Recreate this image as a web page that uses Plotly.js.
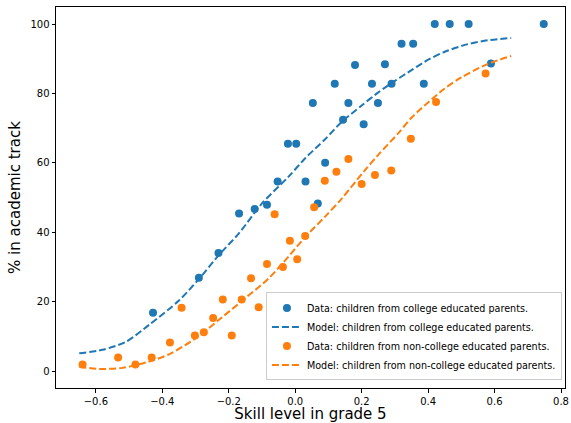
<!DOCTYPE html>
<html>
<head>
<meta charset="utf-8">
<script src="https://cdn.plot.ly/plotly-3.0.1.min.js"></script>
<style>html,body{margin:0;padding:0;background:#fff;}#chart{width:571px;height:423px;}</style>
</head>
<body>
<div id="chart"></div>
<script>
// Data: children from college educated parents
var collegeX = [-0.428,-0.290,-0.231,-0.169,-0.122,-0.085,-0.053,-0.022,0.003,0.031,0.053,0.068,0.090,0.119,0.144,0.160,0.180,0.206,0.231,0.249,0.270,0.290,0.320,0.355,0.387,0.420,0.465,0.522,0.589,0.748];
var collegeY = [16.8,26.9,34.0,45.4,46.7,47.9,54.6,65.5,65.5,54.6,77.2,48.3,60.0,82.8,72.4,77.2,88.2,71.1,82.8,77.2,88.4,82.8,94.3,94.3,82.8,100,100,100,88.6,100];
// Data: children from non-college educated parents
var nonCollegeX = [-0.640,-0.533,-0.481,-0.432,-0.377,-0.342,-0.302,-0.275,-0.247,-0.218,-0.191,-0.161,-0.133,-0.110,-0.085,-0.062,-0.037,-0.016,0.006,0.030,0.057,0.089,0.124,0.160,0.200,0.240,0.289,0.348,0.424,0.573];
var nonCollegeY = [1.9,3.9,1.9,3.9,8.2,18.2,10.2,11.2,15.3,20.6,10.2,20.6,26.7,18.4,30.8,45.2,30.0,37.5,32.2,38.9,47.2,54.8,57.4,61.1,53.9,56.5,57.8,66.9,77.5,85.7];
// Model curves
var modelCollegeX = [-0.65,-0.58,-0.51,-0.44,-0.35,-0.29,-0.23,-0.17,-0.10,-0.02,0.03,0.09,0.14,0.20,0.25,0.30,0.35,0.40,0.45,0.52,0.58,0.65];
var modelCollegeY = [5.1,6.1,8.4,13.3,20.3,26.5,33.4,39.6,48.3,56.0,61.3,66.8,71.8,76.5,80.3,83.6,86.7,89.7,92.0,94.2,95.3,96.0];
var modelNonCollegeX = [-0.65,-0.59,-0.52,-0.44,-0.38,-0.30,-0.22,-0.15,-0.08,-0.02,0.03,0.09,0.14,0.21,0.25,0.31,0.35,0.40,0.45,0.50,0.58,0.65];
var modelNonCollegeY = [1.2,0.6,0.9,2.7,4.8,9.4,15.5,21.0,26.7,33.0,38.6,44.5,49.7,57.9,62.3,68.5,73.0,77.4,81.4,84.6,88.5,90.8];
// Tick labels
var xTickVals = [-0.6,-0.4,-0.2,0.0,0.2,0.4,0.6,0.8];
var xTickText = ["\u22120.6","\u22120.4","\u22120.2","0.0","0.2","0.4","0.6","0.8"];
var yTickVals = [0,20,40,60,80,100];
var yTickText = ["0","20","40","60","80","100"];

var blue = '#1f77b4', orange = '#ff7f0e';
var traces = [
  {x: collegeX, y: collegeY, mode: 'markers', type: 'scatter',
   name: 'Data: children from college educated parents.',
   marker: {color: blue, size: 8}},
  {x: modelCollegeX, y: modelCollegeY, mode: 'lines', type: 'scatter',
   name: 'Model: children from college educated parents.',
   line: {color: blue, width: 2, dash: '7px,3px', shape: 'spline', smoothing: 0.8}},
  {x: nonCollegeX, y: nonCollegeY, mode: 'markers', type: 'scatter',
   name: 'Data: children from non-college educated parents.',
   marker: {color: orange, size: 8}},
  {x: modelNonCollegeX, y: modelNonCollegeY, mode: 'lines', type: 'scatter',
   name: 'Model: children from non-college educated parents.',
   line: {color: orange, width: 2, dash: '7px,3px', shape: 'spline', smoothing: 0.8}}
];
var font = 'DejaVu Sans, sans-serif';
var layout = {
  width: 571, height: 423,
  margin: {l: 56, r: 6, t: 7, b: 35, pad: 0},
  paper_bgcolor: '#fff', plot_bgcolor: '#fff',
  font: {family: font, size: 10, color: '#000'},
  showlegend: true,
  legend: {x: 0.994, y: 0.02, xanchor: 'right', yanchor: 'bottom',
           bgcolor: 'rgba(255,255,255,0.8)', bordercolor: '#cccccc', borderwidth: 1,
           font: {family: font, size: 9.6, color: '#000'}, tracegroupgap: 0, itemwidth: 30},
  xaxis: {range: [-0.72, 0.812], showgrid: false, zeroline: false,
          showline: true, mirror: true, linecolor: '#000', linewidth: 1,
          ticks: 'outside', ticklen: 3.5, tickwidth: 1, tickcolor: '#000',
          tickvals: xTickVals, ticktext: xTickText, ticklabeloverflow: 'allow',
          tickfont: {family: font, size: 10, color: '#000'},
          title: {text: 'Skill level in grade 5', font: {family: font, size: 15, color: '#000'}, standoff: 4}},
  yaxis: {range: [-4.9, 104.9], showgrid: false, zeroline: false,
          showline: true, mirror: true, linecolor: '#000', linewidth: 1,
          ticks: 'outside', ticklen: 3.5, tickwidth: 1, tickcolor: '#000',
          tickvals: yTickVals, ticktext: yTickText,
          tickfont: {family: font, size: 10, color: '#000'},
          title: {text: '% in academic track', font: {family: font, size: 15, color: '#000'}, standoff: 6}}
};
Plotly.newPlot('chart', traces, layout, {displayModeBar: false, staticPlot: true});
</script>
</body>
</html>
